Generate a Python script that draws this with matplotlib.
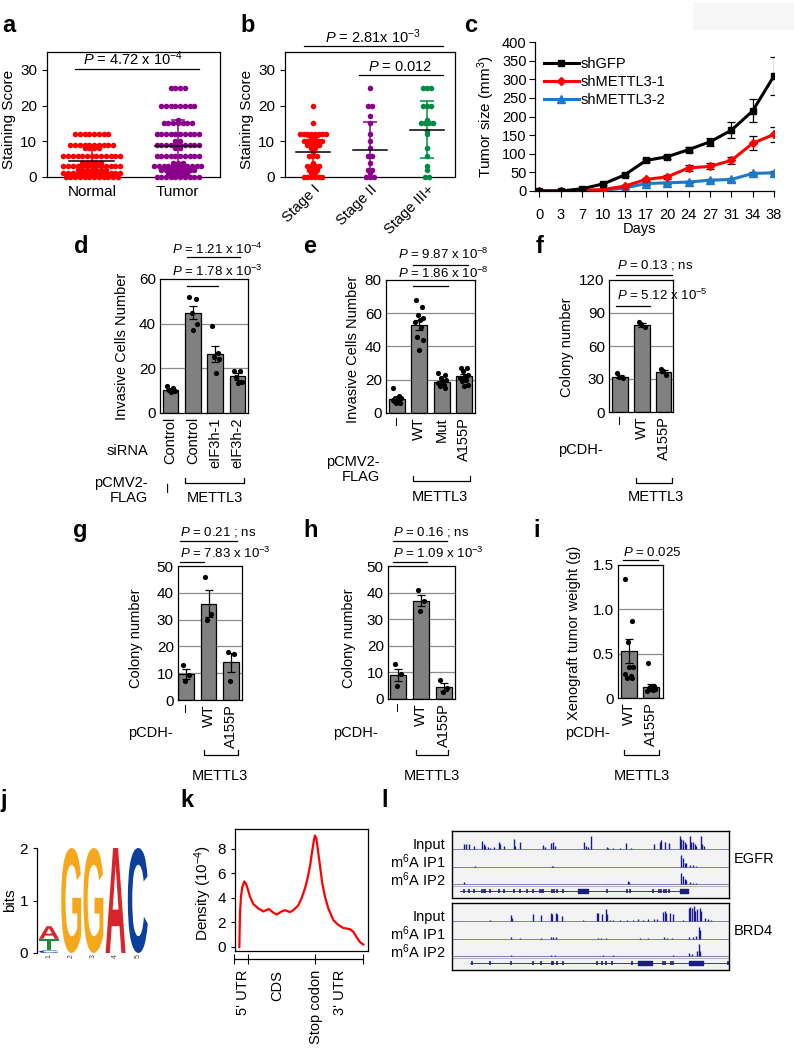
import numpy as np
import matplotlib
matplotlib.use("Agg")
import matplotlib.pyplot as plt
from matplotlib.textpath import TextPath
from matplotlib.patches import PathPatch, Rectangle
from matplotlib.font_manager import FontProperties
from matplotlib.transforms import Affine2D

plt.rcParams["font.family"] = ["Liberation Sans", "DejaVu Sans"]
plt.rcParams["mathtext.fontset"] = "custom"
plt.rcParams["mathtext.rm"] = "Liberation Sans"
plt.rcParams["mathtext.it"] = "Liberation Sans:italic"
plt.rcParams["axes.linewidth"] = 0.9

FS = 10.5   # general text size
PFS = 9.5   # p-value text size

# ---------------- data ----------------
# a: staining score, value levels and how many samples sit on each
normal_levels = [12, 9, 8, 6, 4, 3, 2, 1, 0]
normal_counts = [8, 10, 4, 13, 5, 13, 7, 13, 12]
tumor_levels = [25, 20, 16, 15, 12, 10, 9, 8, 6, 4, 3, 2, 1, 0]
tumor_counts = [4, 8, 1, 7, 10, 2, 10, 2, 10, 3, 11, 8, 5, 10]
a_mean = [4.6, 8.8]
a_sd = [3.6, 7.2]

# b: staining score by stage
stage1_levels = [20, 15, 12, 11, 10, 9, 8, 7, 6, 4, 3, 2, 1, 0]
stage1_counts = [1, 1, 8, 2, 6, 4, 2, 1, 3, 1, 4, 3, 2, 6]
stage2_levels = [25, 20, 17, 15, 12, 10, 8, 6, 4, 2, 1, 0]
stage2_counts = [1, 2, 1, 1, 1, 1, 1, 2, 1, 2, 1, 3]
stage3_levels = [25, 20, 16, 15, 13, 12, 8, 6, 3, 2, 0]
stage3_counts = [3, 3, 1, 4, 1, 1, 1, 1, 1, 1, 2]
b_mean = [7.0, 7.5, 13.2]
b_sd = [4.3, 7.9, 8.0]

# c: tumor growth
days = ["0", "3", "7", "10", "13", "17", "20", "24", "27", "31", "34", "38"]
shgfp = [0, 0, 6, 19, 43, 82, 92, 111, 132, 163, 215, 309]
shgfp_err = [0, 1, 2, 3, 4, 5, 5, 6, 11, 21, 31, 52]
sh1 = [0, 0, 2, 4, 13, 31, 38, 62, 66, 82, 128, 152]
sh1_err = [0, 0, 1, 2, 3, 4, 5, 8, 8, 9, 19, 21]
sh2 = [0, 0, 0, 2, 8, 20, 22, 24, 29, 31, 47, 49]
sh2_err = [0, 0, 0, 1, 2, 3, 3, 3, 3, 3, 4, 4]

# d
d_labels = ["Control", "Control", "eIF3h-1", "eIF3h-2"]
d_heights = [10.3, 45, 26.5, 16.5]
d_err = [0.6, 3, 3.5, 1.5]
d_points = [[12, 11, 10.5, 10, 9.5], [52, 51, 45, 40, 37],
            [39, 27, 25, 24, 18], [19, 19, 16, 14, 13.5]]

# e
e_labels = ["–", "WT", "Mut", "A155P"]
e_heights = [8.5, 53, 18.5, 22]
e_err = [1, 3, 1, 1.2]
e_points = [[15, 10, 9, 9, 8, 8, 7, 7, 6, 6],
            [68, 64, 59, 57, 56, 55, 52, 46, 44, 38],
            [24, 23, 21, 20, 19, 18, 17, 16, 15, 17],
            [27, 27, 25, 23, 22, 21, 20, 19, 17, 16]]

# f
f_labels = ["–", "WT", "A155P"]
f_heights = [32, 79, 36.5]
f_err = [1.5, 1.5, 1.5]
f_points = [[35, 31, 32], [82, 77, 80], [39, 34, 37]]

# g
g_labels = ["–", "WT", "A155P"]
g_heights = [9.7, 36, 14]
g_err = [1.7, 5, 3.5]
g_points = [[13, 9.5, 7], [46, 32, 30], [18, 17, 7]]

# h
h_labels = ["–", "WT", "A155P"]
h_heights = [9, 37, 4.5]
h_err = [2.3, 2.2, 1.5]
h_points = [[13, 9.5, 5], [41, 37, 33], [7, 4, 2.5]]

# i
i_labels = ["WT", "A155P"]
i_heights = [0.53, 0.12]
i_err = [0.14, 0.04]
i_points = [[1.34, 0.87, 0.63, 0.35, 0.35, 0.27, 0.25, 0.23, 0.22],
            [0.40, 0.13, 0.12, 0.10, 0.10, 0.08, 0.09, 0.11, 0.10]]

# j: motif, letters stacked per position (bottom to top) with heights in bits
logo_letters = [["C", "T", "A"], ["G"], ["G"], ["A"], ["C"]]
logo_heights = [[0.05, 0.22, 0.24], [2.0], [2.0], [2.0], [2.0]]

# k: metagene density (x10^-4) along the transcript (%)
k_pos = [0, 0.5, 1.3, 2.4, 4.0, 5.4, 7.0, 8.6, 11.3, 15.3, 19.4, 23.9, 27.4, 30.1,
         34.1, 36.8, 40.9, 43.5, 47.6, 50.3, 53.0, 54.8, 57.0, 58.6, 60.2, 61.0,
         62.1, 63.4, 65.1, 66.9, 69.1, 71.8, 75.8, 79.8, 83.9, 89.2, 91.9, 94.6,
         97.3, 100]
k_density = [0.0, 2.7, 4.1, 4.9, 5.35, 5.15, 4.65, 4.1, 3.5, 3.15, 2.9, 3.1, 2.8,
             2.65, 2.9, 3.0, 2.85, 3.0, 3.4, 4.0, 4.8, 5.5, 6.6, 7.7, 8.75, 9.1,
             8.9, 7.9, 6.6, 5.2, 4.1, 3.15, 2.2, 1.8, 1.55, 1.45, 1.25, 0.8, 0.4, 0.2]
k_regions = ["5' UTR", "CDS", "Stop codon", "3' UTR"]

# l: IGV tracks (relative positions along the locus, signal in arbitrary units)
egfr_input_pos = [190, 197, 205, 222, 245, 250, 255, 262, 270, 280, 295, 298, 310, 340,
                  345, 358, 430, 435, 452, 458, 465, 553, 558, 565, 573, 620, 625, 640,
                  660, 678, 693, 763, 780, 785, 795, 808, 840, 845, 850, 855, 860, 870,
                  875, 880, 885, 890, 903, 908, 912]
egfr_input_sig = [15, 15, 15, 10, 25, 15, 10, 5, 3, 5, 20, 15, 8, 30, 10, 22, 12, 6, 18,
                  22, 8, 20, 8, 5, 38, 6, 3, 3, 3, 18, 3, 15, 20, 28, 20, 18, 38, 30, 28,
                  22, 15, 38, 20, 22, 15, 8, 38, 15, 10]
egfr_ip1_pos = [225, 455, 460, 845, 850, 855, 860, 870, 880, 890]
egfr_ip1_sig = [2, 1, 1, 35, 25, 12, 10, 6, 5, 3]
egfr_ip2_pos = [190, 683, 688, 845, 850, 855, 860, 870, 880, 890]
egfr_ip2_sig = [5, 8, 6, 32, 25, 15, 12, 5, 3, 3]
egfr_exons = [190, 205, 222, 245, 250, 255, 270, 295, 310, 340, 358, 380, 400, 420, 425,
              430, 455, 463, 470, 490, 620, 680, 690, 760, 778, 785, 792, 800, 808]
egfr_blocks = [(533, 32), (840, 25)]
egfr_span = (180, 865)

brd4_input_pos = [268, 333, 335, 398, 422, 453, 457, 468, 472, 487, 548, 590, 595, 605,
                  617, 620, 630, 640, 660, 680, 700, 715, 730, 745, 762, 770, 790, 795,
                  800, 812, 820, 850, 867, 872, 877, 882, 887, 893, 900, 905, 915, 925, 935]
brd4_input_sig = [2, 18, 10, 22, 18, 25, 20, 25, 20, 15, 3, 25, 25, 22, 35, 20, 3, 3, 4,
                  3, 4, 5, 4, 5, 6, 5, 28, 30, 25, 25, 20, 3, 38, 42, 40, 45, 30, 35, 38,
                  30, 10, 5, 3]
brd4_ip1_pos = [333, 358, 423, 453, 458, 468, 594, 604, 617, 720, 745, 793, 803, 818,
                868, 880, 890, 897, 902]
brd4_ip1_sig = [5, 2, 2, 5, 5, 5, 3, 3, 3, 2, 2, 4, 3, 3, 5, 6, 8, 35, 25]
brd4_ip2_pos = [333, 453, 465, 610, 640, 820, 868, 878, 893, 897, 902]
brd4_ip2_sig = [4, 3, 3, 2, 2, 3, 8, 5, 15, 35, 15]
brd4_exons = [215, 268, 333, 398, 423, 455, 460, 470, 488, 590, 605, 617, 635, 695,
              790, 797, 815, 820, 985]
brd4_blocks = [(715, 40), (868, 42)]
brd4_span = (210, 985)

# ---------------- layout helpers ----------------
W, H = 794, 1050
fig = plt.figure(figsize=(W / 100, H / 100), dpi=100)


def add_box(x0, y0, x1, y1):
    return fig.add_axes([x0 / W, 1 - y1 / H, (x1 - x0) / W, (y1 - y0) / H])


def ftext(x, y, s, **kw):
    kw.setdefault("ha", "center")
    kw.setdefault("va", "center")
    kw.setdefault("fontsize", FS)
    fig.text(x / W, 1 - y / H, s, **kw)


def panel_label(x, y, s):
    ftext(x, y, s, fontsize=17, fontweight="bold", va="baseline")


def yfrac(ax, ypx):
    b = ax.get_position()
    y0 = (1 - b.y1) * H
    y1 = (1 - b.y0) * H
    return (y1 - ypx) / (y1 - y0)


def pline(ax, x0, x1, ypx, ends=False):
    yf = yfrac(ax, ypx)
    if ends:
        dy = 5 / (ax.get_position().height * H)
        ax.plot([x0, x0, x1, x1], [yf + dy, yf, yf, yf + dy], color="black", lw=0.9,
                transform=ax.get_xaxis_transform(), clip_on=False)
    else:
        ax.plot([x0, x1], [yf, yf], color="black", lw=0.9,
                transform=ax.get_xaxis_transform(), clip_on=False)


def pval(x, y, s, **kw):
    ftext(x, y, s, ha="left", fontsize=PFS, **kw)


def swarm(ax, x0, levels, counts, color, dx):
    xs, ys = [], []
    for v, n in zip(levels, counts):
        for i in range(n):
            xs.append(x0 + (i - (n - 1) / 2) * dx)
            ys.append(v)
    ax.scatter(xs, ys, s=16, color=color, linewidths=0, zorder=3, clip_on=False)


def mean_sd(ax, x0, m, sd, color, half=0.26):
    ax.errorbar([x0], [m], yerr=[sd], fmt="none", ecolor=color, elinewidth=1.1,
                capsize=5, capthick=1.1, zorder=4)
    ax.plot([x0 - half, x0 + half], [m, m], color="black", lw=1.1, zorder=5)


jitter = [-0.15, 0.12, -0.05, 0.18, 0.02, -0.18, 0.08, -0.1, 0.15, -0.02]


def bar_panel(px, xlim, labels, heights, errs, points, ylim, yticks):
    ax = add_box(*px)
    x = np.arange(len(heights))
    for t in yticks[1:-1]:
        ax.axhline(t, color="#8c8c8c", lw=0.9, zorder=0)
    ax.bar(x, heights, width=0.7, color="#808080", edgecolor="black", lw=0.9, zorder=2)
    ax.errorbar(x, heights, yerr=errs, fmt="none", ecolor="black", elinewidth=0.9,
                capsize=3, capthick=0.9, zorder=3)
    for xi, pts in zip(x, points):
        offs = np.array([jitter[k % len(jitter)] for k in range(len(pts))])
        ax.scatter(xi + offs, pts, s=14, color="black", linewidths=0, zorder=4)
    ax.set_xlim(xlim)
    ax.set_ylim(ylim)
    ax.set_yticks(yticks)
    ax.set_xticks(x)
    ax.set_xticklabels(labels, rotation=90)
    ax.tick_params(axis="x", length=0, pad=3, labelsize=FS)
    ax.tick_params(axis="y", length=0, pad=3, labelsize=11)
    return ax


# light box at top right of the source image
fig.add_artist(Rectangle((693 / W, 1 - 30 / H), 101 / W, 27 / H,
                         transform=fig.transFigure, color="#f6f6f6", lw=0))

# ---------------- a ----------------
ax = add_box(47, 52, 220, 177)
swarm(ax, 0, normal_levels, normal_counts, "#ff0000", 0.055)
swarm(ax, 1, tumor_levels, tumor_counts, "#8b008b", 0.055)
mean_sd(ax, 0, a_mean[0], a_sd[0], "#ff0000")
mean_sd(ax, 1, a_mean[1], a_sd[1], "#8b008b")
ax.set_xlim(-0.52, 1.49)
ax.set_ylim(0, 35)
ax.set_yticks([0, 10, 20, 30])
ax.set_xticks([0, 1])
ax.set_xticklabels(["Normal", "Tumor"])
ax.spines["bottom"].set_linestyle((0, (1, 1)))
ax.tick_params(axis="x", length=0, pad=6, labelsize=11)
ax.tick_params(axis="y", length=3.5, labelsize=11)
pline(ax, -0.2, 1.25, 69)
ftext(133, 59, r"$P$ = 4.72 x 10$^{-4}$", fontsize=10.5)
ftext(9, 119, "Staining Score", rotation=90, fontsize=11)
panel_label(9, 32, "a")

# ---------------- b ----------------
ax = add_box(285, 52, 455, 177)
swarm(ax, 0, stage1_levels, stage1_counts, "#ff0000", 0.065)
swarm(ax, 1, stage2_levels, stage2_counts, "#8b008b", 0.065)
swarm(ax, 2, stage3_levels, stage3_counts, "#008b45", 0.065)
for xi, m, sd, c in zip(range(3), b_mean, b_sd, ["#ff0000", "#8b008b", "#008b45"]):
    mean_sd(ax, xi, m, sd, c, half=0.3)
ax.set_xlim(-0.49, 2.49)
ax.set_ylim(0, 35)
ax.set_yticks([0, 10, 20, 30])
ax.set_xticks([0, 1, 2])
ax.set_xticklabels(["Stage I", "Stage II", "Stage III+"], rotation=45, ha="right",
                   rotation_mode="anchor")
ax.spines["bottom"].set_linestyle((0, (1, 1)))
ax.tick_params(axis="x", length=0, pad=4, labelsize=FS)
ax.tick_params(axis="y", length=3.5, labelsize=11)
pline(ax, -0.16, 2.28, 46)
pline(ax, 0.8, 2.28, 75)
ftext(373, 37, r"$P$ = 2.81x 10$^{-3}$", fontsize=10.5)
ftext(400, 67, r"$P$ = 0.012", fontsize=10.5)
ftext(247, 119, "Staining Score", rotation=90, fontsize=11)
panel_label(248, 32, "b")

# ---------------- c ----------------
ax = add_box(535, 42, 774, 191)
xc = np.arange(len(days))
ax.errorbar(xc, shgfp, yerr=shgfp_err, color="black", lw=2.2, marker="s", ms=5,
            capsize=3, elinewidth=0.9, capthick=0.9, label="shGFP", zorder=4)
ax.errorbar(xc, sh1, yerr=sh1_err, color="#ff0000", lw=2.2, marker="D", ms=4,
            capsize=3, elinewidth=0.9, capthick=0.9, ecolor="black", label="shMETTL3-1", zorder=3)
ax.errorbar(xc, sh2, yerr=sh2_err, color="#1f78c8", lw=2.2, marker="^", ms=5.5,
            capsize=3, elinewidth=0.9, capthick=0.9, ecolor="black", label="shMETTL3-2", zorder=2)
ax.set_xlim(-0.2, 11)
ax.set_ylim(0, 400)
ax.set_yticks(range(0, 401, 50))
ax.set_xticks(xc)
ax.set_xticklabels(days)
ax.spines["top"].set_visible(False)
ax.spines["right"].set_visible(False)
ax.tick_params(axis="x", direction="out", length=4, pad=8, labelsize=FS)
ax.tick_params(axis="y", direction="out", length=4, pad=2, labelsize=FS)
handles, labs = ax.get_legend_handles_labels()
ax.legend([h_[0] for h_ in handles], labs, loc="upper left", bbox_to_anchor=(0.0, 0.96),
          frameon=False, fontsize=FS, handlelength=2.4, handletextpad=0.1,
          labelspacing=0.3, borderaxespad=0.2)
ftext(640, 229, "Days")
ftext(486, 117, "Tumor size (mm$^{3}$)", rotation=90, fontsize=11)
panel_label(471, 32, "c")

# ---------------- d ----------------
ax = bar_panel((160, 279, 248, 413), (-0.47, 3.47), d_labels, d_heights, d_err,
               d_points, (0, 60), [0, 20, 40, 60])
pline(ax, 0.76, 3.12, 257)
pline(ax, 0.76, 2.14, 286)
pval(172, 249, r"$P$ = 1.21 x 10$^{-4}$")
pval(172, 271, r"$P$ = 1.78 x 10$^{-3}$")
pline(ax, 0.63, 3.3, 483, ends=True)
ftext(122, 346, "Invasive Cells Number", rotation=90)
ftext(148, 451, "siRNA", ha="right")
ftext(148, 483, "pCMV2-", ha="right")
ftext(148, 498, "FLAG", ha="right")
ftext(169, 487, "–", rotation=90, fontsize=12)
ftext(215, 498, "METTL3")
panel_label(81, 253, "d")

# ---------------- e ----------------
ax = bar_panel((386, 280, 475, 413), (-0.47, 3.47), e_labels, e_heights, e_err,
               e_points, (0, 80), [0, 20, 40, 60, 80])
pline(ax, 0.72, 3.18, 265)
pline(ax, 0.72, 2.29, 286)
pval(398, 254, r"$P$ = 9.87 x 10$^{-8}$")
pval(398, 273, r"$P$ = 1.86 x 10$^{-8}$")
pline(ax, 0.72, 3.27, 481, ends=True)
ftext(353, 349, "Invasive Cells Number", rotation=90)
ftext(380, 462, "pCMV2-", ha="right")
ftext(380, 477, "FLAG", ha="right")
ftext(440, 497, "METTL3")
panel_label(310, 253, "e")

# ---------------- f ----------------
ax = bar_panel((609, 280, 673, 412), (-0.5, 2.42), f_labels, f_heights, f_err,
               f_points, (0, 120), [0, 30, 60, 90, 120])
pline(ax, -0.16, 2.38, 275)
pline(ax, -0.16, 1.39, 306)
pval(617, 265, r"$P$ = 0.13 ; ns")
pval(617, 295, r"$P$ = 5.12 x 10$^{-5}$")
pline(ax, 0.75, 2.39, 483, ends=True)
ftext(567, 347, "Colony number", rotation=90)
ftext(603, 450, "pCDH-", ha="right")
ftext(656, 497, "METTL3")
panel_label(540, 253, "f")

# ---------------- g ----------------
ax = bar_panel((178, 566, 242, 700), (-0.36, 2.49), g_labels, g_heights, g_err,
               g_points, (0, 50), [0, 10, 20, 30, 40, 50])
pline(ax, -0.27, 2.27, 541)
pline(ax, -0.27, 0.8, 562)
pval(180, 532, r"$P$ = 0.21 ; ns")
pval(180, 553, r"$P$ = 7.83 x 10$^{-3}$")
pline(ax, 0.8, 2.3, 755, ends=True)
ftext(136, 638, "Colony number", rotation=90)
ftext(173, 733, "pCDH-", ha="right")
ftext(220, 776, "METTL3")
panel_label(80, 537, "g")

# ---------------- h ----------------
ax = bar_panel((388, 566, 455, 699), (-0.46, 2.49), h_labels, h_heights, h_err,
               h_points, (0, 50), [0, 10, 20, 30, 40, 50])
pline(ax, -0.25, 2.14, 541)
pline(ax, -0.25, 1.25, 562)
pval(393, 532, r"$P$ = 0.16 ; ns")
pval(393, 553, r"$P$ = 1.09 x 10$^{-3}$")
pline(ax, 0.77, 2.18, 755, ends=True)
ftext(349, 638, "Colony number", rotation=90)
ftext(378, 733, "pCDH-", ha="right")
ftext(432, 776, "METTL3")
panel_label(311, 537, "h")

# ---------------- i ----------------
ax = bar_panel((618, 565, 663, 698), (-0.48, 1.52), i_labels, i_heights, i_err,
               i_points, (0, 1.5), [0, 0.5, 1.0, 1.5])
ax.set_yticklabels(["0", "0.5", "1.0", "1.5"])
pline(ax, -0.27, 1.3, 560)
pval(623, 552, r"$P$ = 0.025")
pline(ax, -0.2, 1.35, 755, ends=True)
ftext(574, 633, "Xenograft tumor weight (g)", rotation=90)
ftext(610, 733, "pCDH-", ha="right")
ftext(642, 776, "METTL3")
panel_label(537, 537, "i")

# ---------------- j ----------------
ax = add_box(37, 848, 150, 953)
logo_font = FontProperties(family="Liberation Sans", weight="bold")
logo_colors = {"A": "#d7262b", "C": "#0c3f9b", "G": "#f6a81c", "T": "#1e8b3a"}
for pos, (lets, hts) in enumerate(zip(logo_letters, logo_heights), start=1):
    base = 0.0
    for ch, hh in zip(lets, hts):
        tp = TextPath((0, 0), ch, size=1, prop=logo_font)
        bb = tp.get_extents()
        tr = (Affine2D().translate(-bb.x0, -bb.y0)
              .scale(0.9 / bb.width, hh / bb.height).translate(pos - 0.45, base))
        ax.add_patch(PathPatch(tr.transform_path(tp), fc=logo_colors[ch], ec="none",
                               clip_on=False))
        base += hh
ax.set_xlim(0.46, 5.55)
ax.set_ylim(0, 2)
ax.set_yticks([0, 1, 2])
ax.set_xticks([1, 2, 3, 4, 5])
ax.set_xticklabels(["1", "2", "3", "4", "5"], rotation=90, fontsize=5, color="#444444")
for sp in ["top", "right", "bottom"]:
    ax.spines[sp].set_visible(False)
ax.tick_params(axis="x", length=0, pad=1)
ax.tick_params(axis="y", length=3, labelsize=11)
ftext(10, 900, "bits", rotation=90, fontsize=11)
panel_label(4, 807, "j")

# ---------------- k ----------------
ax = add_box(235, 829, 368, 951)
ax.plot(k_pos, k_density, color="#ff0000", lw=1.6)
ax.set_xlim(-3.5, 103.8)
ax.set_ylim(-0.33, 9.63)
ax.set_yticks([0, 2, 4, 6, 8])
ax.set_xticks([])
ax.tick_params(axis="y", length=3, labelsize=11)
ftext(203, 893, "Density (10$^{-4}$)", rotation=90, fontsize=11)
axk = add_box(233, 958, 368, 959)
axk.set_xlim(-5.1, 103.8)
axk.set_ylim(0, 1)
for sp in ["top", "right", "left"]:
    axk.spines[sp].set_visible(False)
axk.spines["bottom"].set_bounds(-4, 99.5)
axk.set_yticks([])
axk.set_xticks([-4, 7.3, 61, 99.5])
axk.set_xticklabels([])
axk.set_xticks([3, 30.4, 62, 81.2], minor=True)
axk.set_xticklabels(k_regions, minor=True, rotation=90, va="top")
axk.tick_params(axis="x", which="major", direction="inout", length=7)
axk.tick_params(axis="x", which="minor", length=0, pad=8, labelsize=FS)
panel_label(187, 807, "k")

# ---------------- l ----------------
navy = "#1b1b8f"
track_base = [49, 31.3, 14]
sig_scale = 14 / 42


def igv(px, tracks, exons, blocks, span, gene):
    ax = add_box(*px)
    ax.set_facecolor("#f3f3f3")
    ax.set_xlim(155, 988)
    ax.set_ylim(0, 67)
    for base, (pos, sig) in zip(track_base, tracks):
        ax.axhline(base, color="#6a6ab8", lw=0.6, zorder=1)
        ax.vlines(pos, base, base + np.array(sig) * sig_scale, color=navy, lw=1.0, zorder=2)
    ax.axhline(12.2, color="#aaaaaa", lw=0.6)
    ax.plot(span, [7, 7], color=navy, lw=0.6)
    ax.vlines(exons, 4.8, 9.2, color=navy, lw=1.2)
    ax.broken_barh(blocks, (5, 4), color=navy)
    ax.set_xticks([])
    ax.set_yticks([])
    for sp in ax.spines.values():
        sp.set_linewidth(1.0)
    y_top = px[1]
    for txt, dy in zip(["Input", "m$^6$A IP1", "m$^6$A IP2"], [14, 31, 49]):
        ftext(445, y_top + dy, txt, ha="right")
    ftext(734, y_top + 28, gene, ha="left")


igv((452, 831, 729, 898),
    [(egfr_input_pos, egfr_input_sig), (egfr_ip1_pos, egfr_ip1_sig),
     (egfr_ip2_pos, egfr_ip2_sig)], egfr_exons, egfr_blocks, egfr_span, "EGFR")
igv((452, 903, 729, 970),
    [(brd4_input_pos, brd4_input_sig), (brd4_ip1_pos, brd4_ip1_sig),
     (brd4_ip2_pos, brd4_ip2_sig)], brd4_exons, brd4_blocks, brd4_span, "BRD4")
panel_label(385, 807, "l")

fig.savefig("out.png", dpi=100)
